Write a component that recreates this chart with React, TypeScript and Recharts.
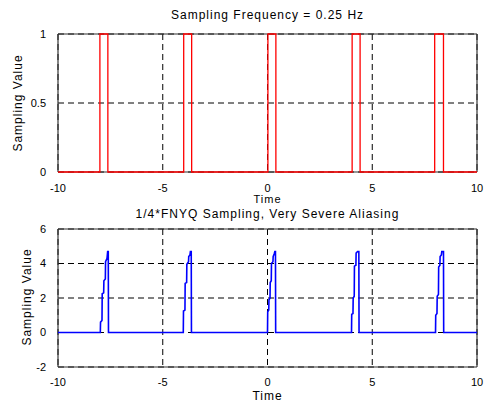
import React from "react";
import { LineChart, Line, XAxis, YAxis, CartesianGrid, ReferenceLine } from "recharts";

// Top panel: sampling pulse train (0.25 Hz)
const topTime = [-10, -8, -8, -7.62, -7.62, -4, -4, -3.62, -3.62, 0.02, 0.02, 0.4, 0.4, 4.04, 4.04, 4.42, 4.42, 7.98, 7.98, 8.4, 8.4, 10];
const topValue = [0, 0, 1, 1, 0, 0, 1, 1, 0, 0, 1, 1, 0, 0, 1, 1, 0, 0, 1, 1, 0, 0];

// Bottom panel: sampled signal (1/4 FNYQ)
const bottomTime = [
  -10, -7.98, -7.97, -7.9, -7.89, -7.82, -7.81, -7.74, -7.73, -7.66, -7.63, -7.6, -7.59,
  -4.02, -4.01, -3.94, -3.93, -3.86, -3.85, -3.77, -3.76, -3.7, -3.68, -3.64, -3.63,
  0.0, 0.01, 0.06, 0.07, 0.12, 0.13, 0.18, 0.19, 0.26, 0.27, 0.33, 0.35, 0.38, 0.39,
  4.01, 4.02, 4.08, 4.09, 4.14, 4.15, 4.22, 4.23, 4.3, 4.36, 4.37,
  8.02, 8.03, 8.09, 8.1, 8.16, 8.17, 8.23, 8.24, 8.3, 8.32, 8.4, 8.41, 10,
];
const bottomValue = [
  0, 0, 0.6, 0.7, 2.25, 2.3, 3.0, 3.1, 4.1, 4.3, 4.7, 4.7, 0,
  0, 1.25, 1.3, 2.85, 2.9, 3.95, 4.1, 4.4, 4.5, 4.7, 4.7, 0,
  0, 1.2, 1.3, 1.9, 2.0, 2.9, 3.0, 4.0, 4.1, 4.4, 4.6, 4.7, 4.7, 0,
  0, 1.05, 1.1, 2.0, 2.1, 3.85, 3.9, 4.6, 4.7, 4.7, 0,
  0, 1.0, 1.1, 2.1, 2.2, 3.8, 3.9, 4.4, 4.5, 4.7, 4.7, 0, 0,
];

const xTicks = [-10, -5, 0, 5, 10];
const topYTicks = [0, 0.5, 1];
const bottomYTicks = [-2, 0, 2, 4, 6];

const topTitle = "Sampling Frequency = 0.25 Hz";
const bottomTitle = "1/4*FNYQ Sampling, Very Severe Aliasing";
const xLabel = "Time";
const yLabel = "Sampling Value";

const topData = topTime.map((t, i) => ({ t, v: topValue[i] }));
const bottomData = bottomTime.map((t, i) => ({ t, v: bottomValue[i] }));

const FONT = "'Liberation Sans', Arial, sans-serif";
const tickStyle = { fontSize: 11, fill: "#000", fontFamily: FONT };
const FRAME = "#333";

const textStyle: React.CSSProperties = {
  position: "absolute",
  fontFamily: FONT,
  fontSize: 12,
  letterSpacing: 1,
  color: "#000",
  whiteSpace: "nowrap",
  lineHeight: "12px",
};

function Frame(x1: number, x2: number, y1: number, y2: number) {
  return [
    <ReferenceLine key="fl" x={x1} stroke={FRAME} strokeWidth={1.2} ifOverflow="visible" />,
    <ReferenceLine key="fr" x={x2} stroke={FRAME} strokeWidth={1.2} ifOverflow="visible" />,
    <ReferenceLine key="fb" y={y1} stroke={FRAME} strokeWidth={1.2} ifOverflow="visible" />,
    <ReferenceLine key="ft" y={y2} stroke={FRAME} strokeWidth={1.2} ifOverflow="visible" />,
  ];
}

export default function App() {
  return (
    <div style={{ position: "absolute", left: 0, top: 0, width: 484, height: 403, background: "#fff", overflow: "hidden" }}>
      <div style={{ position: "absolute", left: 0, top: 0 }}>
        <LineChart width={484} height={200} data={topData} margin={{ top: 34, right: 7, left: 0, bottom: 0 }}>
          <CartesianGrid stroke="#000" strokeDasharray="6 4" />
          <XAxis
            dataKey="t"
            type="number"
            domain={[-10, 10]}
            ticks={xTicks}
            height={28}
            axisLine={false}
            tickLine={false}
            tickMargin={6}
            tick={tickStyle}
            interval={0}
          />
          <YAxis
            type="number"
            domain={[0, 1]}
            ticks={topYTicks}
            width={58}
            axisLine={false}
            tickLine={false}
            tickMargin={6}
            tick={tickStyle}
            interval={0}
          />
          {Frame(-10, 10, 0, 1)}
          <Line dataKey="v" type="linear" stroke="#ff0000" strokeWidth={1.3} dot={false} isAnimationActive={false} />
        </LineChart>
      </div>
      <div style={{ position: "absolute", left: 0, top: 200 }}>
        <LineChart width={484} height={203} data={bottomData} margin={{ top: 29, right: 7, left: 0, bottom: 0 }}>
          <CartesianGrid stroke="#000" strokeDasharray="6 4" />
          <XAxis
            dataKey="t"
            type="number"
            domain={[-10, 10]}
            ticks={xTicks}
            height={36}
            axisLine={false}
            tickLine={false}
            tickMargin={5}
            tick={tickStyle}
            interval={0}
          />
          <YAxis
            type="number"
            domain={[-2, 6]}
            ticks={bottomYTicks}
            width={58}
            axisLine={false}
            tickLine={false}
            tickMargin={6}
            tick={tickStyle}
            interval={0}
          />
          {Frame(-10, 10, -2, 6)}
          <Line dataKey="v" type="linear" stroke="#0000ff" strokeWidth={1.6} dot={false} isAnimationActive={false} />
        </LineChart>
      </div>
      <div style={{ ...textStyle, left: 0, width: 535, top: 9, textAlign: "center" }}>{topTitle}</div>
      <div style={{ ...textStyle, fontSize: 11, left: 0, width: 535, top: 193, textAlign: "center" }}>{xLabel}</div>
      <div style={{ ...textStyle, left: 0, width: 535, top: 207.5, textAlign: "center" }}>{bottomTitle}</div>
      <div style={{ ...textStyle, left: 0, width: 535, top: 390, textAlign: "center" }}>{xLabel}</div>
      <div style={{ ...textStyle, left: 18 - 60, width: 120, top: 103 - 6, textAlign: "center", transform: "rotate(-90deg)" }}>{yLabel}</div>
      <div style={{ ...textStyle, left: 27 - 60, width: 120, top: 297 - 6, textAlign: "center", transform: "rotate(-90deg)" }}>{yLabel}</div>
    </div>
  );
}
